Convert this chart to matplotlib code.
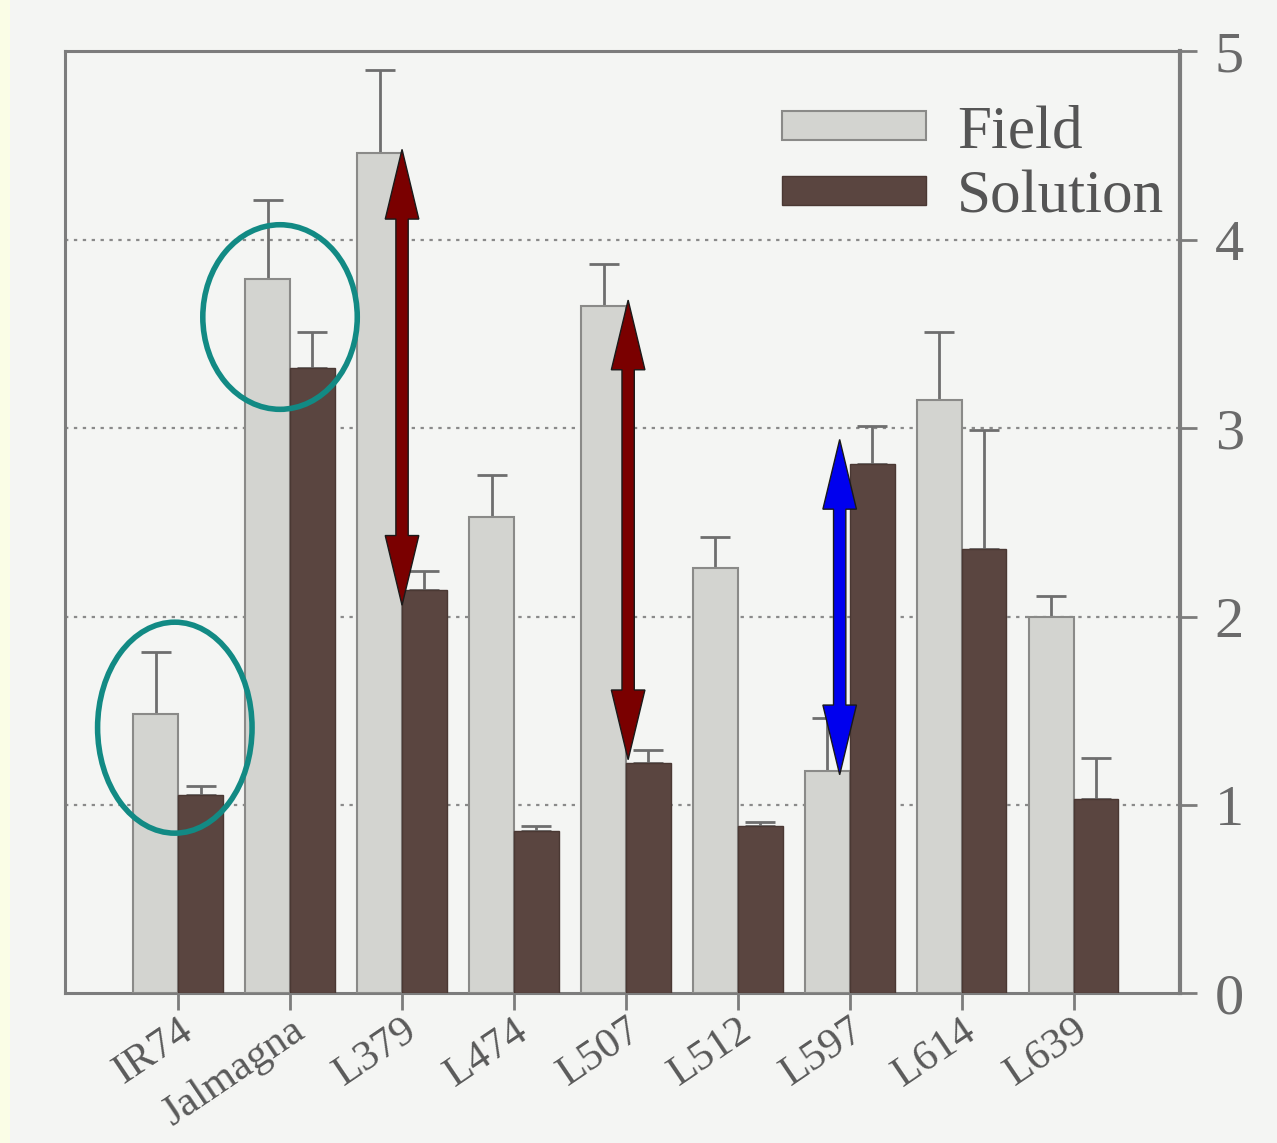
import matplotlib.pyplot as plt
from matplotlib.patches import Ellipse, Polygon, Rectangle
import numpy as np

cultivars = ['IR74', 'Jalmagna', 'L379', 'L474', 'L507', 'L512', 'L597', 'L614', 'L639']
field = [1.48, 3.79, 4.46, 2.53, 3.65, 2.26, 1.18, 3.15, 2.00]
field_err = [0.33, 0.42, 0.44, 0.22, 0.22, 0.16, 0.28, 0.36, 0.11]
solution = [1.05, 3.32, 2.14, 0.86, 1.22, 0.89, 2.81, 2.36, 1.03]
solution_err = [0.05, 0.19, 0.10, 0.03, 0.07, 0.02, 0.20, 0.63, 0.22]

# annotations drawn over the scanned chart
circles = [(-0.03, 1.41, 1.38, 1.12), (0.91, 3.59, 1.38, 0.98)]  # x, y, w, h
arrows = [(2.0, 2.06, 4.48, '#7a0000'), (4.02, 1.24, 3.68, '#7a0000'), (5.91, 1.16, 2.94, '#0000ee')]

plt.rcParams['font.family'] = ['Liberation Serif', 'DejaVu Serif']

fig = plt.figure(figsize=(12.77, 11.43), dpi=100)
fig.patch.set_facecolor('#fafde6')
# scanned paper area
fig.add_artist(Rectangle((0.008, 0), 0.992, 1, transform=fig.transFigure,
                         facecolor='#f4f5f3', edgecolor='none', zorder=-10))

ax = fig.add_axes([0.051, 0.131, 0.873, 0.824])
ax.set_facecolor('#f4f5f3')

x = np.arange(len(cultivars))
w = 0.4
gray = '#7c7c7c'

ax.bar(x - w / 2, field, w, color='#d3d4d0', edgecolor='#8a8a88', linewidth=1.5, label='Field', zorder=3)
ax.bar(x + w / 2, solution, w, color='#5a4540', edgecolor='#4a3833', linewidth=1.0, label='Solution', zorder=3)
ax.errorbar(x - w / 2, field, yerr=[np.zeros(len(x)), field_err], fmt='none',
            ecolor='#6e6e6e', elinewidth=2, capsize=11, capthick=2, zorder=2)
ax.errorbar(x + w / 2, solution, yerr=[np.zeros(len(x)), solution_err], fmt='none',
            ecolor='#6e6e6e', elinewidth=2, capsize=11, capthick=2, zorder=2)

ax.set_xlim(-1.01, 8.95)
ax.set_ylim(0, 5)
ax.set_yticks([0, 1, 2, 3, 4, 5])
ax.yaxis.tick_right()
ax.tick_params(axis='y', colors=gray, labelsize=42, length=12, width=2, pad=13, labelcolor='#6a6a6a')
ax.set_xticks(x)
ax.set_xticklabels(cultivars, rotation=34, ha='right', rotation_mode='anchor')
ax.tick_params(axis='x', colors=gray, labelsize=31, length=12, width=2, pad=1, labelcolor='#5a5a5a')
for s in ax.spines.values():
    s.set_color(gray)
    s.set_linewidth(2.2)
ax.spines['right'].set_linewidth(3)

for v in [1, 2, 3, 4]:
    ax.axhline(v, color='#8a8a8a', linestyle=(0, (1.5, 2.5)), linewidth=1.6, zorder=1)

leg = ax.legend(loc='upper right', bbox_to_anchor=(1.008, 0.969), borderaxespad=0, frameon=False,
                fontsize=44, handlelength=2.35, handleheight=0.35, handletextpad=0.52,
                labelspacing=0.15, labelcolor='#555555')

for cx, cy, cw, ch in circles:
    ax.add_patch(Ellipse((cx, cy), cw, ch, fill=False, edgecolor='#128a84', linewidth=4, zorder=5))

shaft = 0.055
head_w = 0.15
head_l = 0.37
for ax_x, y0, y1, col in arrows:
    pts = [(ax_x, y1), (ax_x + head_w, y1 - head_l), (ax_x + shaft, y1 - head_l),
           (ax_x + shaft, y0 + head_l), (ax_x + head_w, y0 + head_l), (ax_x, y0),
           (ax_x - head_w, y0 + head_l), (ax_x - shaft, y0 + head_l),
           (ax_x - shaft, y1 - head_l), (ax_x - head_w, y1 - head_l)]
    ax.add_patch(Polygon(pts, closed=True, facecolor=col, edgecolor='#1a1a1a', linewidth=1, zorder=6))

fig.savefig('out.png', dpi=100, facecolor=fig.get_facecolor())
